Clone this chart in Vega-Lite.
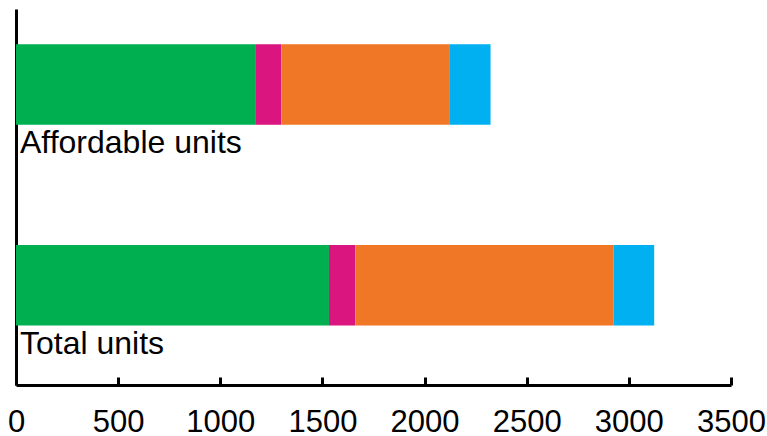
{
  "$schema": "https://vega.github.io/schema/vega-lite/v6.json",
  "width": 715,
  "height": 376,
  "autosize": {"type": "none"},
  "padding": {"left": 16, "top": 9, "right": 36, "bottom": 51},
  "background": "white",
  "config": {"view": {"stroke": null}, "font": "Liberation Sans"},
  "data": {
    "values": [
      {"cat": "Affordable units", "seg": "1", "value": 1171},
      {"cat": "Affordable units", "seg": "2", "value": 128},
      {"cat": "Affordable units", "seg": "3", "value": 825},
      {"cat": "Affordable units", "seg": "4", "value": 199},
      {"cat": "Total units", "seg": "1", "value": 1532},
      {"cat": "Total units", "seg": "2", "value": 129},
      {"cat": "Total units", "seg": "3", "value": 1264},
      {"cat": "Total units", "seg": "4", "value": 199}
    ]
  },
  "encoding": {
    "y": {
      "field": "cat",
      "type": "nominal",
      "sort": ["Affordable units", "Total units"],
      "scale": {"paddingInner": 0.599, "paddingOuter": 0.236, "align": 0.372},
      "axis": {"title": null, "labels": false, "ticks": false, "domainColor": "black", "domainWidth": 3, "grid": false}
    }
  },
  "layer": [
    {
      "mark": {"type": "bar"},
      "encoding": {
        "x": {
          "field": "value",
          "type": "quantitative",
          "stack": "zero",
          "scale": {"domain": [0, 3500], "nice": false},
          "axis": {
            "title": null,
            "values": [0, 500, 1000, 1500, 2000, 2500, 3000, 3500],
            "format": "d",
            "grid": false,
            "domainColor": "black",
            "domainWidth": 3,
            "tickColor": "black",
            "tickWidth": 3,
            "tickSize": -8,
            "labelFontSize": 31,
            "labelColor": "black",
            "labelPadding": 30,
            "labelFlush": false,
            "labelOverlap": false
          }
        },
        "color": {
          "field": "seg",
          "type": "nominal",
          "scale": {"domain": ["1", "2", "3", "4"], "range": ["#00B050", "#DA1580", "#EF7726", "#00B0F0"]},
          "legend": null
        },
        "order": {"field": "seg", "sort": "ascending"}
      }
    },
    {
      "transform": [{"aggregate": [{"op": "count", "as": "n"}], "groupby": ["cat"]}],
      "mark": {"type": "text", "align": "left", "baseline": "alphabetic", "dx": 4, "dy": 69, "fontSize": 32, "color": "black"},
      "encoding": {
        "x": {"datum": 0, "type": "quantitative"},
        "text": {"field": "cat"}
      }
    }
  ]
}
